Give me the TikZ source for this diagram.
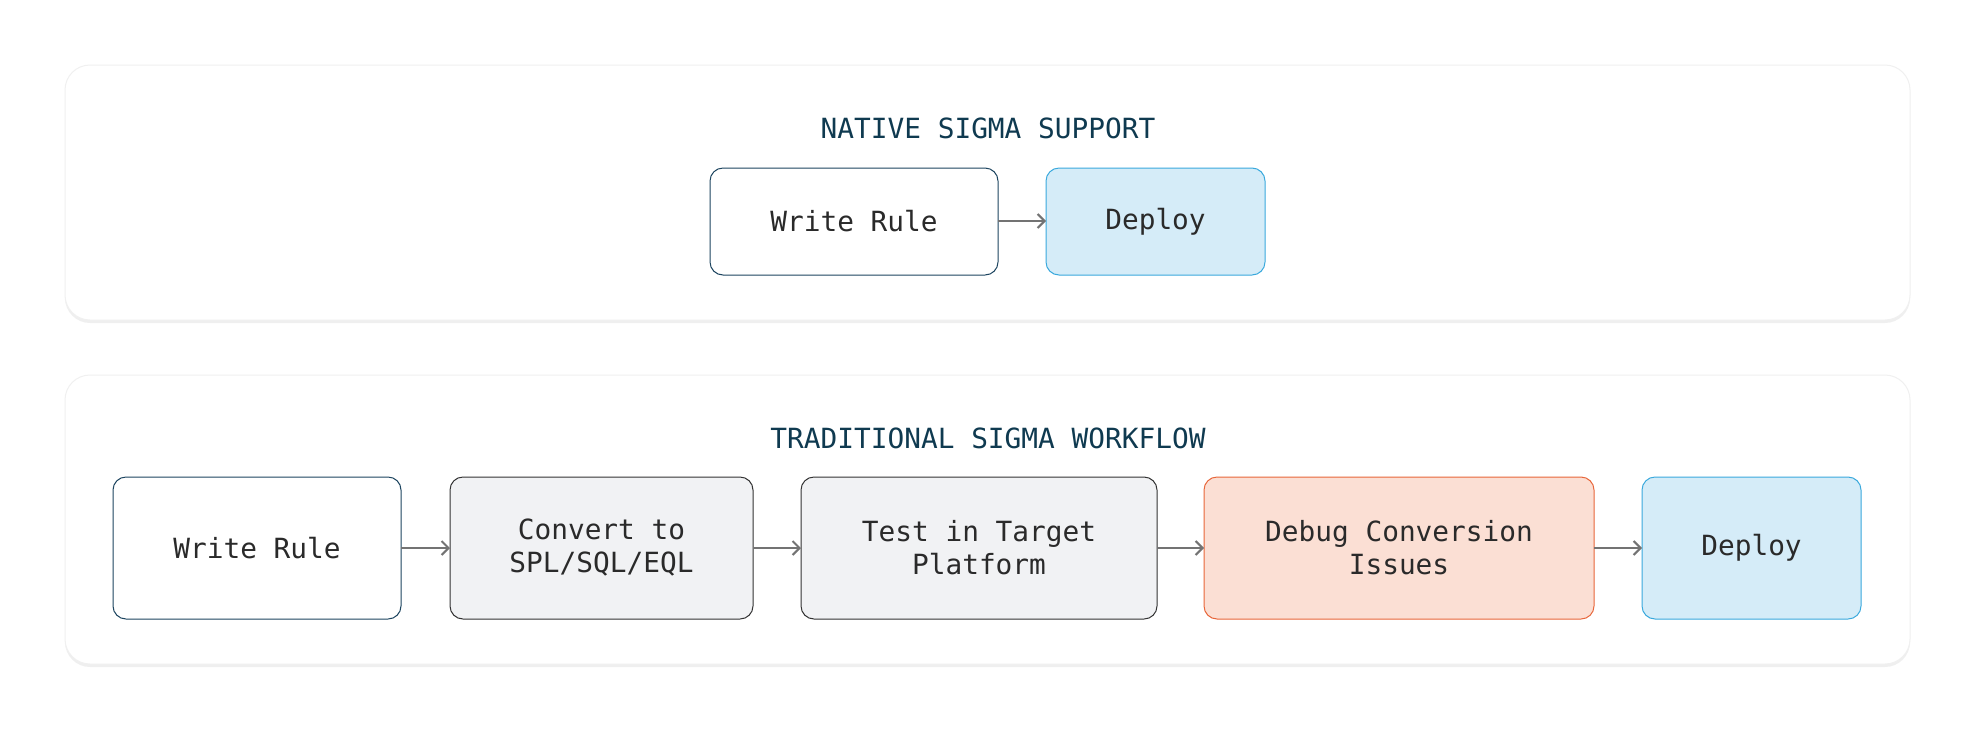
\documentclass[tikz,border=0pt]{standalone}
\usepackage{fontspec}
\setmonofont{DejaVu Sans Mono}
\usetikzlibrary{shadows,arrows.meta}
\definecolor{navy}{HTML}{1D4560}
\definecolor{ttl}{HTML}{0F3A50}
\definecolor{txt}{HTML}{2A2A2A}
\definecolor{grayfill}{HTML}{F1F2F4}
\definecolor{redfill}{HTML}{FBDFD4}
\definecolor{redline}{HTML}{E8663A}
\definecolor{bluefill}{HTML}{D5ECF8}
\definecolor{blueline}{HTML}{3AA9DD}
\tikzset{
 x=1pt,y=-1pt,
 panel/.style={draw=black!6,line width=1pt,fill=white,rounded corners=25pt,drop shadow={opacity=0.12,shadow xshift=0pt,shadow yshift=-3pt}},
 title/.style={font=\fontsize{27.8}{32}\selectfont\ttfamily,text=ttl},
 box/.style={rounded corners=13pt,line width=1pt,font=\fontsize{27.8}{33}\selectfont\ttfamily,text=txt,align=center,inner sep=0pt},
 wbox/.style={box,draw=navy,fill=white},
 gbox/.style={box,draw=black!80,fill=grayfill},
 rbox/.style={box,draw=redline,fill=redfill},
 bbox/.style={box,draw=blueline,fill=bluefill},
 arr/.style={draw=black!55,line width=2pt,-{Straight Barb[length=7pt,width=14pt]}}
}
\begin{document}
\begin{tikzpicture}
\useasboundingbox (0,0) rectangle (1975,729);
\fill[white] (0,0) rectangle (1975,729);
\path[panel] (65,65) rectangle (1910,320);
\path[panel] (65,375) rectangle (1910,664);
\node[title] (t1) at (988,128) {NATIVE SIGMA SUPPORT};
\node[title] (t2) at (988,438) {TRADITIONAL SIGMA WORKFLOW};
\path[wbox] (710,168) rectangle node (a1) {Write Rule} (998,275);
\path[bbox] (1046,168) rectangle node (a2) {Deploy} (1265,275);
\coordinate (a1e) at (998,221); \coordinate (a2w) at (1046,221);
\draw[arr] (a1e) -- (a2w);
\path[wbox] (113,477) rectangle node (b1) {Write Rule} (401,619);
\path[gbox] (450,477) rectangle node (b2) {Convert to\\SPL/SQL/EQL} (753,619);
\path[gbox] (801,477) rectangle node (b3) {Test in Target\\Platform} (1157,619);
\path[rbox] (1204,477) rectangle node (b4) {Debug Conversion\\Issues} (1594,619);
\path[bbox] (1642,477) rectangle node (b5) {Deploy} (1861,619);
\foreach \xa/\xb in {401/450,753/801,1157/1204,1594/1642}{
 \coordinate (p) at (\xa,548); \coordinate (q) at (\xb,548);
 \draw[arr] (p) -- (q);}
\end{tikzpicture}
\end{document}
